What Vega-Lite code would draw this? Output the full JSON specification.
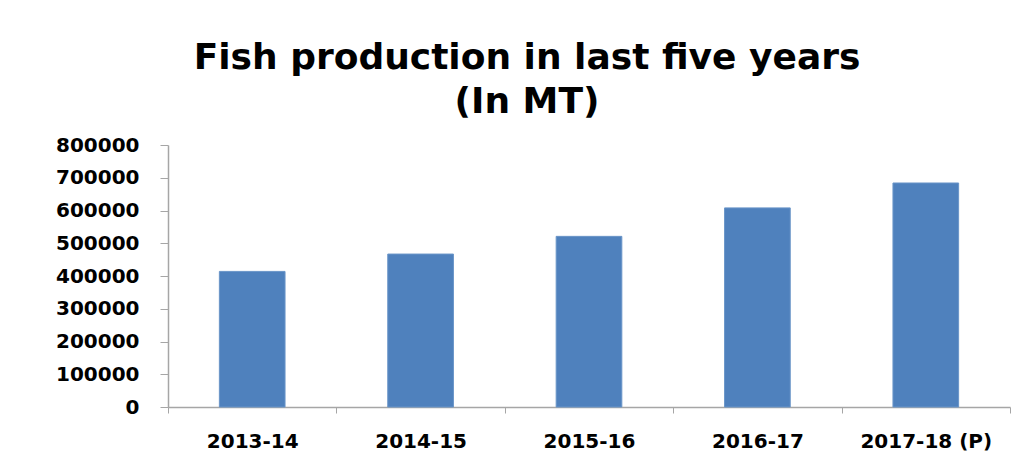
{
  "$schema": "https://vega.github.io/schema/vega-lite/v6.json",
  "autosize": "none",
  "width": 842,
  "height": 262,
  "padding": {"left": 168, "top": 145, "right": 19, "bottom": 57},
  "background": "white",
  "title": {
    "text": ["Fish production in last five years", "(In MT)"],
    "font": "DejaVu Sans",
    "fontSize": 36,
    "fontWeight": "bold",
    "color": "#000000",
    "anchor": "middle",
    "dx": -62,
    "offset": 14,
    "lineHeight": 44
  },
  "data": {
    "values": [
      {"year": "2013-14", "production": 414000},
      {"year": "2014-15", "production": 467000},
      {"year": "2015-16", "production": 521000},
      {"year": "2016-17", "production": 608000},
      {"year": "2017-18 (P)", "production": 684000}
    ]
  },
  "mark": {"type": "bar", "color": "#4F81BD", "stroke": "#6A95C8", "strokeWidth": 1, "width": {"band": 0.39}},
  "encoding": {
    "x": {
      "field": "year",
      "type": "nominal",
      "sort": null,
      "scale": {"paddingInner": 0, "paddingOuter": 0},
      "axis": {
        "title": null,
        "labelAngle": 0,
        "labelFont": "DejaVu Sans",
        "labelFontWeight": "bold",
        "labelFontSize": 20,
        "labelColor": "#000000",
        "labelPadding": 18,
        "tickBand": "extent",
        "tickSize": 6,
        "tickColor": "#A6A6A6",
        "domainColor": "#A6A6A6",
        "domainWidth": 1.5,
        "grid": false
      }
    },
    "y": {
      "field": "production",
      "type": "quantitative",
      "scale": {"domain": [0, 800000], "nice": false},
      "axis": {
        "title": null,
        "values": [0, 100000, 200000, 300000, 400000, 500000, 600000, 700000, 800000],
        "format": "d",
        "labelFont": "DejaVu Sans",
        "labelFontWeight": "bold",
        "labelFontSize": 20,
        "labelColor": "#000000",
        "labelPadding": 21,
        "tickSize": 8,
        "tickColor": "#A6A6A6",
        "domainColor": "#A6A6A6",
        "domainWidth": 1.5,
        "grid": false
      }
    }
  },
  "config": {"view": {"stroke": null}}
}
